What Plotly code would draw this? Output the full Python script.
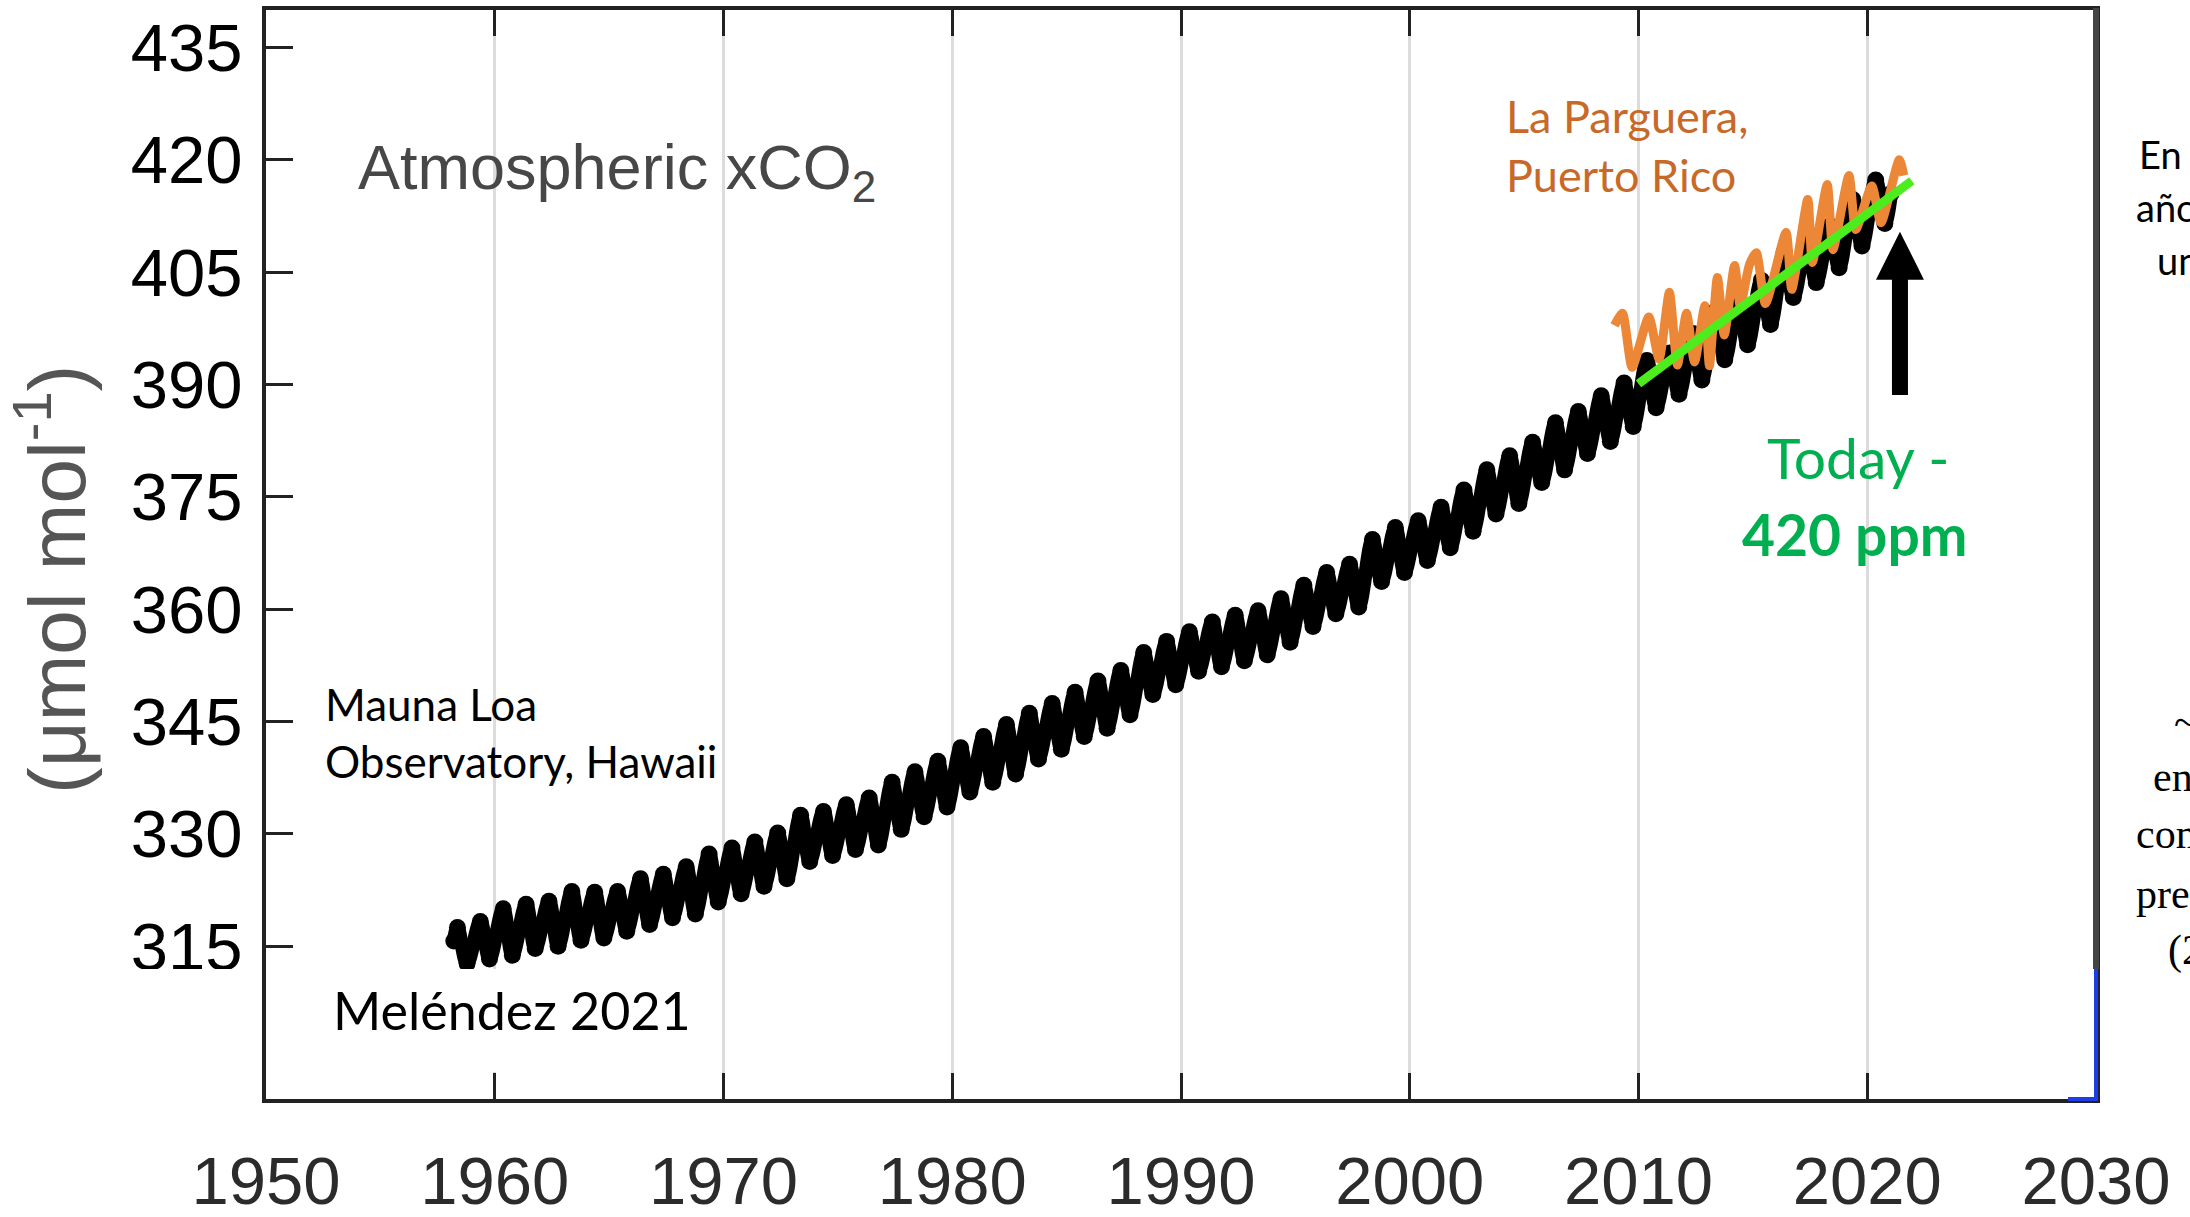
import plotly.graph_objects as go

# ---------------------------------------------------------------------------
# Data
# ---------------------------------------------------------------------------
# Mauna Loa Observatory, Hawaii: seasonal maximum (May) and minimum (Sep/Oct)
ml_years = list(range(1958, 2021))
ml_may = [317.5, 318.3, 320.0, 320.6, 321.0, 322.3, 322.2, 322.3, 324.0, 324.6,
          325.6, 327.3, 328.1, 328.9, 330.1, 332.5, 333.0, 333.9, 334.8, 336.9,
          338.3, 339.7, 341.5, 343.0, 344.6, 346.1, 347.4, 348.9, 350.4, 351.8,
          354.2, 355.7, 357.0, 358.3, 359.2, 359.8, 361.4, 363.2, 364.9, 366.0,
          369.3, 370.9, 371.8, 373.6, 375.9, 378.6, 380.5, 382.3, 384.9, 386.4,
          388.5, 390.2, 393.2, 394.2, 396.8, 399.8, 401.8, 403.9, 407.7, 409.7,
          411.2, 414.7, 417.3]
ml_oct = [312.7, 313.3, 313.8, 314.7, 315.0, 315.8, 316.1, 317.0, 317.9, 318.8,
          319.3, 320.9, 322.0, 323.0, 324.0, 326.3, 327.1, 327.9, 328.5, 330.6,
          332.3, 333.6, 335.6, 336.9, 338.0, 340.0, 341.3, 343.0, 344.1, 345.9,
          348.6, 349.9, 351.7, 352.3, 353.1, 353.9, 355.6, 357.7, 359.4, 360.3,
          363.7, 364.9, 366.5, 368.2, 370.4, 372.7, 374.1, 376.9, 378.6, 380.8,
          382.4, 384.4, 386.9, 388.7, 390.6, 393.3, 395.3, 398.0, 401.6, 403.6,
          405.6, 408.5, 411.5]
ml_first = (1958.21, 315.7)   # March 1958
ml_last = (2021.04, 415.5)    # January 2021

# La Parguera, Puerto Rico (decimal year, ppm)
lp_date = [2008.95, 2009.30, 2009.72, 2010.45, 2010.90, 2011.35, 2011.70, 2012.10,
           2012.45, 2012.90, 2013.10, 2013.45, 2013.75, 2014.20, 2014.45, 2014.85,
           2015.15, 2015.55, 2016.45, 2016.70, 2017.40, 2017.60, 2018.25, 2018.50,
           2019.20, 2019.50, 2020.20, 2020.60, 2021.40, 2021.60]
lp_ppm = [397.9, 399.5, 392.3, 399.0, 393.4, 402.3, 392.6, 399.5,
          393.0, 400.5, 392.5, 404.3, 396.6, 405.9, 400.5, 406.0,
          407.6, 400.8, 410.3, 402.7, 414.7, 406.3, 416.7, 408.0,
          417.9, 410.7, 416.5, 411.6, 420.0, 417.9]

# Linear trend over the La Parguera period
trend_date = [2010.0, 2021.95]
trend_ppm = [390.1, 417.2]

# "Today" marker
today_year = 2021.43
today_tip = 410.4
today_tail = 388.6

x_ticks = [1950, 1960, 1970, 1980, 1990, 2000, 2010, 2020, 2030]
y_ticks = [315, 330, 345, 360, 375, 390, 405, 420, 435]

# ---------------------------------------------------------------------------
# Page geometry (pixels) and helpers to place text in paper coordinates
# ---------------------------------------------------------------------------
W, H = 2190, 1217
L, R, T, B = 266, 2096, 10, 1099


def px(x):
    return (x - L) / (R - L)


def py(y):
    return (B - y) / (B - T)


# Mauna Loa series: start point, then alternating May peak / autumn trough
ml_x = [ml_first[0]]
ml_y = [ml_first[1]]
for yr, hi, lo in zip(ml_years, ml_may, ml_oct):
    if yr == 1958:
        ml_x += [yr + 0.37, yr + 0.79]
    else:
        ml_x += [yr + 0.37, yr + 0.77]
    ml_y += [hi, lo]
ml_x.append(ml_last[0])
ml_y.append(ml_last[1])

fig = go.Figure()

fig.add_trace(go.Scatter(
    x=ml_x, y=ml_y, mode="lines+markers",
    line=dict(color="black", width=14, shape="spline", smoothing=1.0),
    marker=dict(color="black", size=17),
    hoverinfo="skip", showlegend=False,
))
fig.add_trace(go.Scatter(
    x=lp_date, y=lp_ppm, mode="lines",
    line=dict(color="#eb8736", width=9, shape="spline", smoothing=0.6),
    hoverinfo="skip", showlegend=False,
))
fig.add_trace(go.Scatter(
    x=trend_date, y=trend_ppm, mode="lines",
    line=dict(color="#4ded1d", width=9),
    hoverinfo="skip", showlegend=False,
))

TICK_FONT = "Liberation Sans, Arial, sans-serif"
LABEL_FONT = "Lato, Carlito, Calibri, sans-serif"
SERIF_FONT = "Liberation Serif, Cambria, serif"

fig.update_layout(
    width=W, height=H,
    margin=dict(l=L, r=W - R, t=T, b=H - B, pad=0),
    paper_bgcolor="white", plot_bgcolor="white",
    showlegend=False,
    xaxis=dict(
        range=[1950, 2030], tickvals=x_ticks, ticktext=[str(v) for v in x_ticks],
        ticks="inside", ticklen=26, tickwidth=3, tickcolor="#222",
        showline=True, linecolor="#222", linewidth=4, mirror="ticks",
        showgrid=True, gridcolor="#dcdcdc", gridwidth=3, zeroline=False,
        tickfont=dict(family=TICK_FONT, size=67, color="#2b2b2b"),
        ticklabelstandoff=21, automargin=False,
    ),
    yaxis=dict(
        range=[294.6, 440.0], tickvals=y_ticks,
        ticks="inside", ticklen=27, tickwidth=3, tickcolor="#222",
        showline=True, linecolor="#222", linewidth=4, mirror=True,
        showgrid=False, zeroline=False,
        tickfont=dict(family=TICK_FONT, size=67, color="black"),
        ticklabelstandoff=6, automargin=False,
    ),
)

shapes = [
    # pasted caption panel covering the lower-left corner
    dict(type="rect", xref="paper", yref="paper", layer="above",
         x0=px(0), x1=px(262), y0=py(1075), y1=py(969),
         fillcolor="white", line_width=0),
    dict(type="rect", xref="paper", yref="paper", layer="above",
         x0=px(269), x1=px(705), y0=py(1072), y1=py(969),
         fillcolor="white", line_width=0),
    # right frame edge
    dict(type="line", xref="paper", yref="paper", layer="above",
         x0=1, x1=1, y0=py(969), y1=py(T - 2),
         line=dict(color="#444", width=6)),
    dict(type="line", xref="paper", yref="paper", layer="above",
         x0=1, x1=1, y0=py(B + 2), y1=py(969),
         line=dict(color="#1e3ce8", width=4)),
    dict(type="line", xref="paper", yref="paper", layer="above",
         x0=px(2068), x1=px(2098), y0=0, y1=0,
         line=dict(color="#1e3ce8", width=4)),
    # "today" arrow: shaft in data units, head sized in pixels
    dict(type="line", xref="x", yref="y", layer="above",
         x0=today_year, x1=today_year, y0=today_tail, y1=today_tip - 5.5,
         line=dict(color="black", width=16)),
    dict(type="path", xref="x", yref="y", layer="above",
         xsizemode="pixel", ysizemode="pixel",
         xanchor=today_year, yanchor=today_tip,
         path="M0,0 L24,-48 L-24,-48 Z",
         fillcolor="black", line_width=0),
]
fig.update_layout(shapes=shapes)


def note(text, x, y, size, color, family, xanchor="left", yanchor="middle",
         **kw):
    return dict(text=text, x=px(x), y=py(y), xref="paper", yref="paper",
                xanchor=xanchor, yanchor=yanchor, showarrow=False,
                font=dict(family=family, size=size, color=color),
                align="left", **kw)


annotations = [
    note("(μmol mol<sup>-1</sup>)", 51, 580, 80, "#555", TICK_FONT,
         xanchor="center", textangle=-90),
    note("Atmospheric xCO<sub>2</sub>", 356, 172, 63, "#474747", TICK_FONT),
    note("La Parguera,<br>Puerto Rico", 1504, 146, 45, "#c86928", LABEL_FONT),
    note("Mauna Loa<br>Observatory, Hawaii", 323, 733, 44, "black", LABEL_FONT),
    note("Meléndez 2021", 331, 1010, 52, "black", LABEL_FONT),
    note("Today -", 1858, 457, 57, "#00b050", LABEL_FONT, xanchor="center"),
    note("<b>420 ppm</b>", 1855, 534, 57, "#00b050", LABEL_FONT,
         xanchor="center"),
    # side notes running off the right edge
    note("En 60", 2137, 154, 38, "black", LABEL_FONT),
    note("años,", 2134, 207, 38, "black", LABEL_FONT),
    note("un 30%", 2155, 260, 38, "black", LABEL_FONT),
    note("~50%", 2172, 722, 42, "black", SERIF_FONT),
    note("en CO2", 2151, 777, 42, "black", SERIF_FONT),
    note("comparado", 2134, 834, 42, "black", SERIF_FONT),
    note("preindustrial", 2134, 894, 42, "black", SERIF_FONT),
    note("(280 ppm)", 2166, 950, 42, "black", SERIF_FONT),
]
fig.update_layout(annotations=annotations)

fig.write_html("out.html")
